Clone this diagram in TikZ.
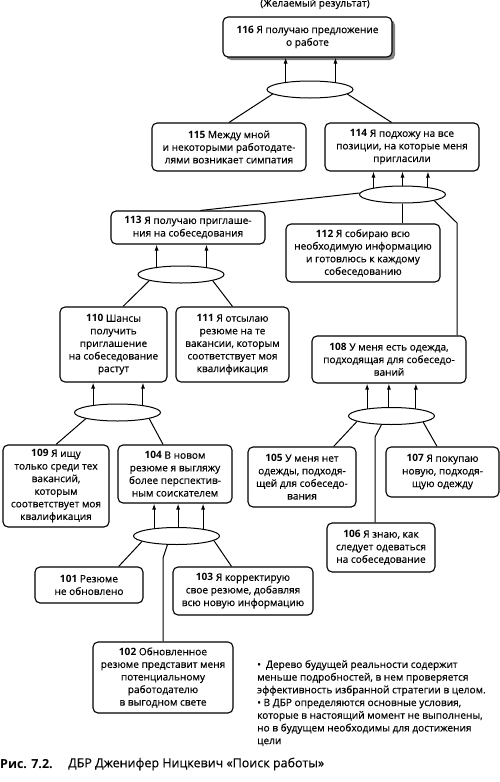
\documentclass[tikz,border=0pt]{standalone}
\usepackage{fontspec}
\setmainfont{Open Sans}[UprightFeatures={FakeBold=0.35}]
\usetikzlibrary{arrows.meta}
\usetikzlibrary{shapes, shadows}

\begin{document}
\begin{tikzpicture}[x=1pt, y=-1pt,
				   box/.style={draw=black, line width=1.1pt, rounded corners=5pt, align=center, inner sep=1pt, font=\fontsize{10.1pt}{12.6pt}\selectfont},
				   knot/.style={ellipse, draw=black, line width=1pt, minimum width=86pt, minimum height=17pt, inner sep=0pt},
				   arr/.style={-{Latex[length=6pt,width=4pt]}, line width=1pt},
				   link/.style={line width=1pt}]
\useasboundingbox (0,0) rectangle (500,782);

% goal
\node[font=\fontsize{10.1pt}{12pt}\selectfont] (goal) at (315,4) {(Желаемый результат)};
\node[box, minimum width=169pt, minimum height=40pt, drop shadow={opacity=1, shadow xshift=3pt, shadow yshift=-3pt}, fill=white] (b116) at (307.5,37) {\textbf{116} Я получаю предложение\\ о работе};

% upper level
\node[box, minimum width=154pt, minimum height=48pt] (b115) at (229,147) {\textbf{115} Между мной\\ и некоторыми работодате-\\ лями возникает симпатия};
\node[box, minimum width=154pt, minimum height=48pt] (b114) at (402,147) {\textbf{114} Я подхожу на все\\ позиции, на которые меня\\ пригласили};
\node[box, minimum width=154pt, minimum height=33pt] (b113) at (188,227.5) {\textbf{113} Я получаю приглаше-\\ ния на собеседования};
\node[box, minimum width=154pt, minimum height=58pt] (b112) at (363,253) {\textbf{112} Я собираю всю\\ необходимую информацию\\ и готовлюсь к каждому\\ собеседованию};
\node[box, minimum width=107pt, minimum height=75pt] (b110) at (113.5,344.5) {\textbf{110} Шансы\\ получить\\ приглашение\\ на собеседование\\ растут};
\node[box, minimum width=113pt, minimum height=75pt] (b111) at (232.5,344.5) {\textbf{111} Я отсылаю\\ резюме на те\\ вакансии, которым\\ соответствует моя\\ квалификация};
\node[box, minimum width=154pt, minimum height=47pt] (b108) at (389,359.5) {\textbf{108} У меня есть одежда,\\ подходящая для собеседо-\\ ваний};

% lower level
\node[box, minimum width=106pt, minimum height=82pt] (b109) at (56,486) {\textbf{109} Я ищу\\ только среди тех\\ вакансий,\\ которым\\ соответствует моя\\ квалификация};
\node[box, minimum width=114pt, minimum height=58pt] (b104) at (175,474) {\textbf{104} В новом\\ резюме я выгляжу\\ более перспектив-\\ ным соискателем};
\node[box, minimum width=108pt, minimum height=60pt] (b105) at (302,477) {\textbf{105} У меня нет\\ одежды, подходя-\\ щей для собеседо-\\ вания};
\node[box, minimum width=113pt, minimum height=50pt] (b107) at (442.5,472) {\textbf{107} Я покупаю\\ новую, подходя-\\ щую одежду};
\node[box, minimum width=108pt, minimum height=49pt] (b106) at (381,547.5) {\textbf{106} Я знаю, как\\ следует одеваться\\ на собеседование};
\node[box, minimum width=108pt, minimum height=36pt] (b101) at (89,585) {\textbf{101} Резюме\\ не обновлено};
\node[box, minimum width=140pt, minimum height=48pt] (b103) at (243,591) {\textbf{103} Я корректирую\\ свое резюме, добавляя\\ всю новую информацию};
\node[box, minimum width=140pt, minimum height=71pt] (b102) at (163,677.5) {\textbf{102} Обновленное\\ резюме представит меня\\ потенциальному\\ работодателю\\ в выгодном свете};

% and-knots
\node[knot] (e116) at (310,89.5) {};
\node[knot] (e114) at (402.5,194.5) {};
\node[knot] (e113) at (181,274.5) {};
\node[knot] (e110) at (117.5,412.5) {};
\node[knot] (e108) at (391.5,416) {};
\node[knot] (e104) at (176.5,536) {};

% bends
\coordinate (k108) at (457,223);
\coordinate (k106) at (375,437);
\coordinate (k102) at (163,558);

% arrows into effects
\foreach \e/\b/\angles in {e116/b116/{163,16}, e114/b114/{167,90,16}, e113/b113/{163,16},
                           e110/b110/{163,16}, e108/b108/{163,106,17}, e104/b104/{161,80,15}}
	\foreach \a in \angles
		\draw[arr] (\e.\a) -- (\e.\a |- \b.south);

% causes into knots
\draw[link] (e116.187) -- (b115.north);
\draw[link] (e116.-7) -- (b114.113);
\draw[link] (e114.178) -- (b113.54);
\draw[link] (e114.south) -- (e114.south |- b112.north);
\draw[link] (e114.-11) -- (k108) -- (k108 |- b108.north);
\draw[link] (e113.191) -- (b110.76);
\draw[link] (e113.-11) -- (b111.north);
\draw[link] (e110.191) -- (b109.north);
\draw[link] (e110.-11) -- (b104.112);
\draw[link] (e108.189) -- (b105.44);
\draw[link] (e108.221) -- (k106) -- (k106 |- b106.north);
\draw[link] (e108.-11) -- (b107.102);
\draw[link] (e104.189) -- (b101.32);
\draw[link] (e104.224) -- (k102) -- (b102.north);
\draw[link] (e104.-7) -- (b103.115);

% notes and caption
\node[anchor=north west, align=left, inner sep=0pt, font=\fontsize{10.1pt}{12.7pt}\selectfont] (notes) at (257,660)
	{•\enspace Дерево будущей реальности содержит\\ меньше подробностей, в нем проверяется\\ эффективность избранной стратегии в целом.\\ • В ДБР определяются основные условия,\\ которые в настоящий момент не выполнены,\\ но в будущем необходимы для достижения\\ цели};
\node[anchor=west, inner sep=0pt, font=\fontsize{12.5pt}{14pt}\selectfont\bfseries] (fig) at (0,764) {Рис. 7.2.};
\node[anchor=west, inner sep=0pt, font=\fontsize{12.5pt}{14pt}\selectfont] (title) at (68,764) {ДБР Дженифер Ницкевич «Поиск работы»};
\end{tikzpicture}
\end{document}
